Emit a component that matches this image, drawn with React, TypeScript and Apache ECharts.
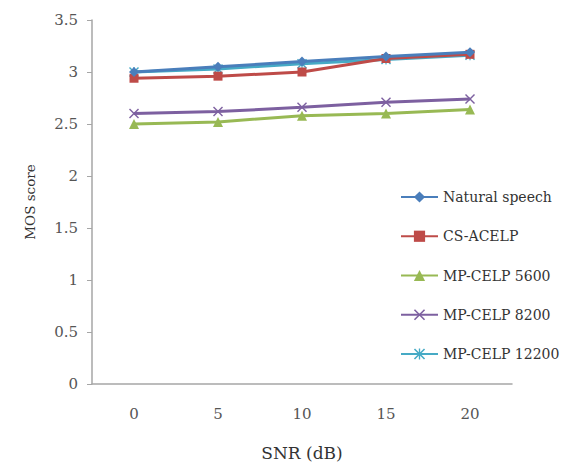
import React, { useEffect, useRef } from "react";
import * as echarts from "echarts";

const categories = ["0", "5", "10", "15", "20"];
const yTicks = [0, 0.5, 1, 1.5, 2, 2.5, 3, 3.5];
const naturalSpeech = [3.0, 3.05, 3.1, 3.15, 3.19];
const csAcelp = [2.94, 2.96, 3.0, 3.13, 3.17];
const mpCelp5600 = [2.5, 2.52, 2.58, 2.6, 2.64];
const mpCelp8200 = [2.6, 2.62, 2.66, 2.71, 2.74];
const mpCelp12200 = [3.0, 3.03, 3.08, 3.12, 3.16];

const seriesNames = ["Natural speech", "CS-ACELP", "MP-CELP 5600", "MP-CELP 8200", "MP-CELP 12200"];
const seriesData = [naturalSpeech, csAcelp, mpCelp5600, mpCelp8200, mpCelp12200];
const seriesColors = ["#4A7EBB", "#BE4B48", "#98B954", "#7D60A0", "#46AAC5"];
const X_PATH = "path://M0,1L1,0L5,4L9,0L10,1L6,5L10,9L9,10L5,6L1,10L0,9L4,5Z";
const STAR_PATH =
  "path://M4.4,0H5.6V10H4.4ZM0,1L1,0L5,4L9,0L10,1L6,5L10,9L9,10L5,6L1,10L0,9L4,5Z";
const seriesSymbols = ["diamond", "rect", "triangle", X_PATH, STAR_PATH];
const seriesSymbolSizes = [10, 9, 10, 10, 10];

const FONT = "DejaVu Serif";

export default function App() {
  const ref = useRef<HTMLDivElement>(null);
  useEffect(() => {
    if (!ref.current) return;
    const chart = echarts.init(ref.current, undefined, { renderer: "svg" });
    chart.setOption({
      animation: false,
      backgroundColor: "#ffffff",
      textStyle: { fontFamily: FONT },
      grid: { left: 92, top: 20, right: 51, bottom: 84 },
      legend: {
        orient: "vertical",
        left: 395,
        top: 185,
        itemWidth: 37,
        itemHeight: 14,
        itemGap: 25.25,
        data: seriesNames,
        textStyle: { fontFamily: FONT, fontSize: 14, color: "#333" },
      },
      xAxis: {
        type: "category",
        data: categories,
        boundaryGap: true,
        name: "SNR (dB)",
        nameLocation: "middle",
        nameGap: 60,
        nameTextStyle: { fontFamily: FONT, fontSize: 17, color: "#333" },
        axisLine: { lineStyle: { color: "#A6A6A6", width: 1.5 } },
        axisTick: { show: false },
        axisLabel: { fontFamily: FONT, fontSize: 15, color: "#555", margin: 22 },
      },
      yAxis: {
        type: "value",
        min: 0,
        max: 3.5,
        interval: 0.5,
        name: "MOS score",
        nameLocation: "middle",
        nameGap: 55,
        nameRotate: 90,
        nameTextStyle: { fontFamily: FONT, fontSize: 13.5, color: "#333" },
        axisLine: { show: true, lineStyle: { color: "#A6A6A6", width: 1.5 } },
        axisTick: { show: true, length: 5, lineStyle: { color: "#A6A6A6" } },
        splitLine: { show: false },
        axisLabel: {
          fontFamily: FONT,
          fontSize: 15,
          color: "#555",
          margin: 14,
          formatter: (v: number) => (yTicks.includes(v) ? String(v) : ""),
        },
      },
      series: seriesNames.map((name, i) => ({
        name,
        type: "line",
        data: seriesData[i],
        symbol: seriesSymbols[i],
        symbolSize: seriesSymbolSizes[i],
        showAllSymbol: true,
        lineStyle: { color: seriesColors[i], width: 3 },
        itemStyle: { color: seriesColors[i] },
        z: 10 - i,
      })),
    });
    return () => chart.dispose();
  }, []);
  return (
    <div
      ref={ref}
      style={{ position: "fixed", left: 0, top: 0, width: 563, height: 468 }}
    />
  );
}
